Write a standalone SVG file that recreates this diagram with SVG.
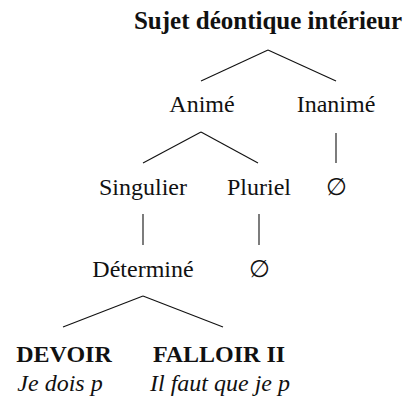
<svg xmlns="http://www.w3.org/2000/svg" width="410" height="400" viewBox="0 0 410 400">
<style>
text{font-family:"Liberation Serif","DejaVu Serif",serif;font-size:24px;fill:#111;text-anchor:middle}
.b{font-weight:bold}
.i{font-style:italic}
.c line{stroke:#111;stroke-width:1.1;fill:none}
</style>
<rect width="410" height="400" fill="#fff"/>
<g class="c" id="connectors">
<line x1="268" y1="50" x2="201" y2="81"/>
<line x1="268" y1="50" x2="336" y2="81"/>
<line x1="201" y1="132" x2="143" y2="163"/>
<line x1="201" y1="132" x2="258" y2="163"/>
<line x1="336" y1="133" x2="336" y2="163"/>
<line x1="143" y1="214" x2="143" y2="245"/>
<line x1="259" y1="214" x2="259" y2="245"/>
<line x1="143" y1="296" x2="63" y2="327"/>
<line x1="143" y1="296" x2="223" y2="327"/>
</g>
<g id="root"><text class="b" x="268" y="29" style="font-size:25px">Sujet déontique intérieur</text></g>
<g id="anime"><text x="202" y="112">Animé</text></g>
<g id="inanime"><text x="336" y="112">Inanimé</text></g>
<g id="singulier"><text x="143" y="195">Singulier</text></g>
<g id="pluriel"><text x="259" y="195">Pluriel</text></g>
<g id="empty1"><text x="336" y="195">∅</text></g>
<g id="determine"><text x="143" y="277">Déterminé</text></g>
<g id="empty2"><text x="259" y="277">∅</text></g>
<g id="devoir"><text class="b" x="64" y="362">DEVOIR</text><text class="i" x="60" y="391">Je dois p</text></g>
<g id="falloir"><text class="b" x="219" y="362">FALLOIR II</text><text class="i" x="220" y="391">Il faut que je p</text></g>
</svg>
